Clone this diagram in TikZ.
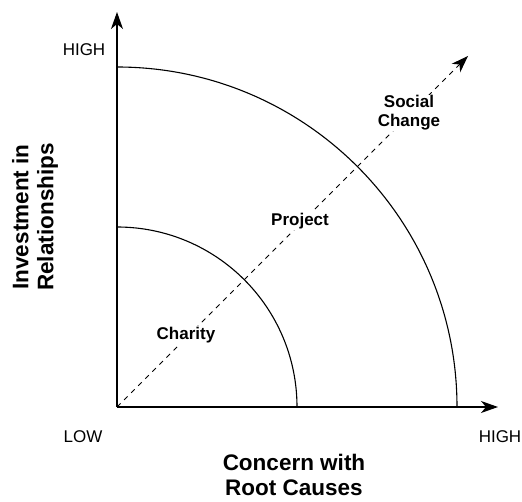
\documentclass[tikz,border=0pt]{standalone}
\usepackage{fontspec}
\setmainfont{Liberation Sans}
\usetikzlibrary{arrows.meta}
\begin{document}
\begin{tikzpicture}[x=1pt,y=1pt,
  tip/.style={-{Stealth[length=17pt,width=12pt,inset=5pt]}},
  axis/.style={line width=1.2pt,tip},
  arcline/.style={line width=1.1pt},
  lbl/.style={font=\fontsize{17}{19}\selectfont},
  zone/.style={font=\bfseries\fontsize{17}{19}\selectfont,fill=white,inner sep=1pt,align=center},
  title/.style={font=\bfseries\fontsize{22.5}{25}\selectfont,align=center,inner sep=0pt}]
\useasboundingbox (0,0) rectangle (522,501);
\coordinate (O) at (117,94);
\coordinate (ytip) at (117,489);
\coordinate (xtip) at (498,94);
\coordinate (dtip) at (468,445);
\draw[line width=0.9pt,dash pattern=on 5pt off 5pt,tip] (O) -- (dtip);
\draw[arcline] (297,94) arc[start angle=0,end angle=90,radius=180];
\draw[arcline] (457,94) arc[start angle=0,end angle=90,radius=340];
\draw[axis] (O) -- (ytip);
\draw[axis] (O) -- (xtip);
\node[zone] (soc) at (409,388) {Social\\Change};
\node[zone] (proj) at (300,280) {Project};
\node[zone] (char) at (186,166) {Charity};
\node[lbl] (yhigh) at (84,451) {HIGH};
\node[lbl] (low) at (83,64) {LOW};
\node[lbl] (xhigh) at (500,64) {HIGH};
\node[title] (xt) at (294,26) {Concern with\\Root Causes};
\node[title,rotate=90] (yt) at (35,284) {Investment in\\Relationships};
\end{tikzpicture}
\end{document}
